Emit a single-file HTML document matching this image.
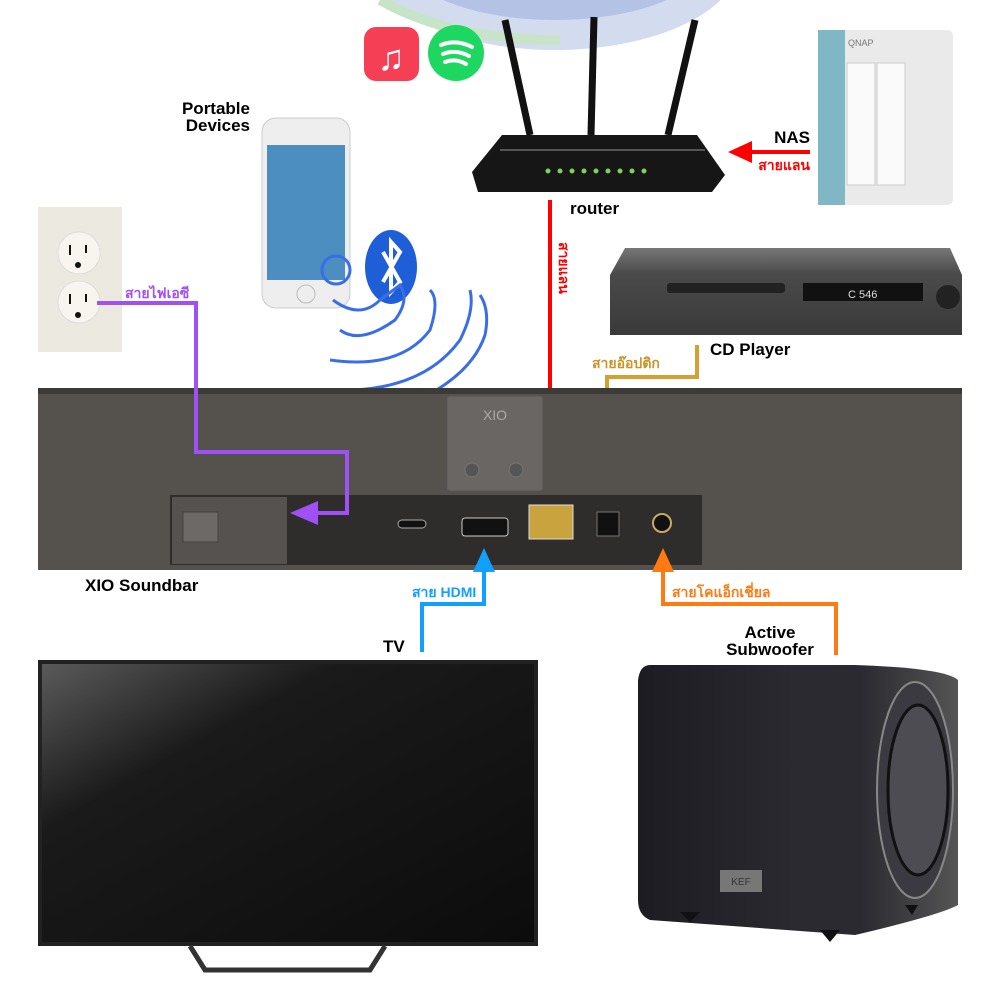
<!DOCTYPE html>
<html><head><meta charset="utf-8"><style>
html,body{margin:0;padding:0;background:#fff;}
svg{display:block;}
text{font-family:"Liberation Sans","DejaVu Sans",sans-serif;}
.b{font-weight:bold;font-size:17px;fill:#000;}
.t{font-size:14px;font-weight:bold;}
</style></head><body>
<svg width="1000" height="1000" viewBox="0 0 1000 1000" xmlns="http://www.w3.org/2000/svg">
<defs>
<linearGradient id="tv" x1="0" y1="0" x2="1" y2="1"><stop offset="0" stop-color="#5a5a5a"/><stop offset="0.3" stop-color="#1a1a1a"/><stop offset="1" stop-color="#0c0c0c"/></linearGradient>
<linearGradient id="sub" x1="0" y1="0" x2="1" y2="0"><stop offset="0" stop-color="#1c1c22"/><stop offset="0.5" stop-color="#2a2a30"/><stop offset="0.7" stop-color="#2a2a30"/><stop offset="1" stop-color="#555"/></linearGradient>
<linearGradient id="cd" x1="0" y1="0" x2="0" y2="1"><stop offset="0" stop-color="#777"/><stop offset="0.3" stop-color="#4a4a4a"/><stop offset="1" stop-color="#3a3a3a"/></linearGradient>
</defs>
<!-- globe -->
<ellipse cx="555" cy="-40" rx="185" ry="90" fill="#d3dbef"/>
<ellipse cx="555" cy="-40" rx="150" ry="60" fill="#b4c2e6"/>
<path d="M380 0 Q450 40 560 40" stroke="#c8e4c8" stroke-width="10" fill="none"/>
<!-- app icons -->
<rect x="364" y="27" width="55" height="54" rx="12" fill="#f43f55"/>
<text x="391" y="70" font-size="36" fill="#fff" text-anchor="middle">♫</text>
<circle cx="456" cy="53" r="28" fill="#1ed760"/>
<path d="M441 45 Q456 39 472 47 M443 54 Q456 49 469 56 M445 62 Q456 58 466 64" stroke="#fff" stroke-width="4" fill="none" stroke-linecap="round"/>
<!-- router -->
<path d="M505 20 L530 135" stroke="#111" stroke-width="7"/>
<path d="M594 17 L591 135" stroke="#111" stroke-width="7"/>
<path d="M695 20 L668 135" stroke="#111" stroke-width="7"/>
<path d="M502 135 L697 135 L725 175 L712 192 L478 192 L472 172 Z" fill="#161616"/>
<path d="M500 150 L705 150" stroke="#555" stroke-width="2"/>
<g fill="#7fd05a"><circle cx="548" cy="171" r="2.5"/><circle cx="560" cy="171" r="2.5"/><circle cx="572" cy="171" r="2.5"/><circle cx="584" cy="171" r="2.5"/><circle cx="596" cy="171" r="2.5"/><circle cx="608" cy="171" r="2.5"/><circle cx="620" cy="171" r="2.5"/><circle cx="632" cy="171" r="2.5"/><circle cx="644" cy="171" r="2.5"/></g>
<text x="570" y="214" class="b">router</text>
<!-- NAS -->
<rect x="818" y="30" width="135" height="175" rx="6" fill="#eaeaea"/>
<rect x="818" y="30" width="27" height="175" fill="#7fb8c4"/>
<rect x="847" y="63" width="28" height="122" fill="#fafafa" stroke="#ccc"/>
<rect x="877" y="63" width="28" height="122" fill="#fafafa" stroke="#ccc"/>
<text x="848" y="46" font-size="9" fill="#777">QNAP</text>
<text x="810" y="143" class="b" font-size="18" text-anchor="end">NAS</text>
<path d="M810 152 L750 152" stroke="#f00" stroke-width="4"/>
<path d="M728 152 L752 141 L752 163 Z" fill="#f00"/>
<text x="810" y="170" class="t" fill="#f00" text-anchor="end">สายแลน</text>
<!-- red vertical -->
<path d="M550 200 L550 490" stroke="#f00" stroke-width="4"/>
<path d="M550 515 L539 492 L561 492 Z" fill="#f00"/>
<text transform="translate(559,242) rotate(90)" class="t" fill="#f00">สายแลน</text>
<!-- phone -->
<rect x="262" y="118" width="88" height="190" rx="14" fill="#eee" stroke="#ccc"/>
<rect x="267" y="145" width="78" height="135" fill="#4d8ec0"/>
<circle cx="306" cy="294" r="9" fill="none" stroke="#bbb"/>
<text x="250" y="114" class="b" text-anchor="end">Portable</text>
<text x="250" y="131" class="b" text-anchor="end">Devices</text>
<!-- bluetooth -->
<ellipse cx="391" cy="267" rx="26" ry="37" fill="#1e5fd8"/>
<path d="M383 252 L400 282 L391 292 L391 242 L400 252 L383 282" stroke="#fff" stroke-width="4" fill="none"/>
<g stroke="#3a6ee8" stroke-width="3" fill="none">
<circle cx="336" cy="270" r="14"/>
<path d="M333 300 Q360 320 380 300 L400 285 Q410 300 395 320 Q360 345 340 330"/>
<path d="M330 360 Q400 370 430 330 Q440 300 430 290"/>
<path d="M325 390 Q420 395 460 340 Q475 310 470 290"/>
<path d="M322 410 Q330 425 400 408 Q470 380 485 335 Q490 310 480 295"/>
</g>
<!-- outlet -->
<rect x="38" y="207" width="84" height="145" fill="#ece9e0"/>
<circle cx="79" cy="253" r="21" fill="#f7f5ee" stroke="#ddd"/>
<circle cx="79" cy="302" r="21" fill="#f7f5ee" stroke="#ddd"/>
<g fill="#111"><rect x="69" y="245" width="2" height="10"/><rect x="85" y="245" width="2" height="8"/><rect x="69" y="294" width="2" height="10"/><rect x="85" y="294" width="2" height="8"/><circle cx="78" cy="265" r="3"/><circle cx="78" cy="315" r="3"/></g>
<!-- CD Player -->
<path d="M625 248 L950 248 L962 275 L962 335 L610 335 L610 275 Z" fill="url(#cd)"/>
<rect x="667" y="283" width="118" height="10" rx="3" fill="#222"/>
<rect x="803" y="283" width="120" height="18" fill="#111"/>
<text x="848" y="298" font-size="11" fill="#ddd">C 546</text>
<circle cx="948" cy="297" r="12" fill="#222"/>
<text x="710" y="355" class="b">CD Player</text>
<!-- gold -->
<path d="M697 345 L697 377 L607 377 L607 490" stroke="#d4a032" stroke-width="4" fill="none"/>
<path d="M607 515 L596 492 L618 492 Z" fill="#d4a032"/>
<text x="592" y="368" class="t" fill="#c8952a">สายอ๊อปติก</text>
<!-- soundbar -->
<rect x="38" y="388" width="924" height="182" fill="#55524e"/>
<rect x="38" y="388" width="924" height="6" fill="#3c3a37"/>
<rect x="447" y="396" width="96" height="95" rx="3" fill="#6a6663" stroke="#555"/>
<text x="495" y="420" font-size="14" fill="#aaa" text-anchor="middle">XIO</text>
<circle cx="472" cy="470" r="7" fill="#555" stroke="#777"/><circle cx="516" cy="470" r="7" fill="#555" stroke="#777"/>
<rect x="170" y="495" width="532" height="70" fill="#2f2d2b"/>
<rect x="172" y="497" width="115" height="67" fill="#55524f"/>
<rect x="183" y="512" width="35" height="30" fill="#6c6966" stroke="#444"/>
<rect x="462" y="518" width="46" height="18" rx="3" fill="#111" stroke="#ccc"/>
<rect x="529" y="505" width="44" height="34" fill="#c9a33e" stroke="#ddd"/>
<rect x="597" y="512" width="22" height="24" fill="#111" stroke="#777"/>
<circle cx="662" cy="523" r="9" fill="#111" stroke="#c9a86a" stroke-width="2"/>
<rect x="398" y="520" width="28" height="8" rx="4" fill="#111" stroke="#aaa"/>
<text x="85" y="591" class="b">XIO Soundbar</text>
<!-- purple -->
<path d="M97 303 L196 303 L196 452 L347 452 L347 513 L315 513" stroke="#a050f5" stroke-width="4" fill="none"/>
<path d="M290 513 L318 501 L318 525 Z" fill="#a050f5"/>
<text x="125" y="298" class="t" fill="#a050f5">สายไฟเอซี</text>
<!-- blue HDMI -->
<path d="M422 652 L422 604 L484 604 L484 570" stroke="#12a0ff" stroke-width="4" fill="none"/>
<path d="M484 548 L473 572 L495 572 Z" fill="#12a0ff"/>
<text x="412" y="597" class="t" fill="#12a0ff">สาย HDMI</text>
<text x="383" y="652" class="b">TV</text>
<!-- orange -->
<path d="M836 655 L836 604 L663 604 L663 570" stroke="#ff7a10" stroke-width="4" fill="none"/>
<path d="M663 548 L652 572 L674 572 Z" fill="#ff7a10"/>
<text x="672" y="597" class="t" fill="#ff7a10">สายโคแอ็กเชี่ยล</text>
<text x="770" y="638" class="b" text-anchor="middle">Active</text>
<text x="770" y="655" class="b" text-anchor="middle">Subwoofer</text>
<!-- TV -->
<rect x="38" y="660" width="500" height="286" fill="#222"/>
<rect x="42" y="664" width="492" height="278" fill="url(#tv)"/>
<path d="M190 946 L205 970 L370 970 L385 946" stroke="#333" stroke-width="5" fill="none"/>
<!-- subwoofer -->
<path d="M650 665 L855 665 Q945 668 958 680 L958 905 Q940 915 855 935 L650 920 Q638 915 638 900 L638 680 Q640 665 650 665 Z" fill="url(#sub)"/>
<ellipse cx="915" cy="790" rx="38" ry="108" fill="#3a3a40" stroke="#888" stroke-width="2"/>
<ellipse cx="918" cy="790" rx="30" ry="85" fill="#4c4c52" stroke="#111" stroke-width="3"/>
<path d="M680 912 L690 922 L700 912 M820 930 L830 942 L840 930 M905 905 L912 915 L918 905" fill="#111"/>
<rect x="720" y="870" width="42" height="22" fill="#777"/>
<text x="741" y="885" font-size="10" fill="#333" text-anchor="middle">KEF</text>
</svg>
</body></html>
